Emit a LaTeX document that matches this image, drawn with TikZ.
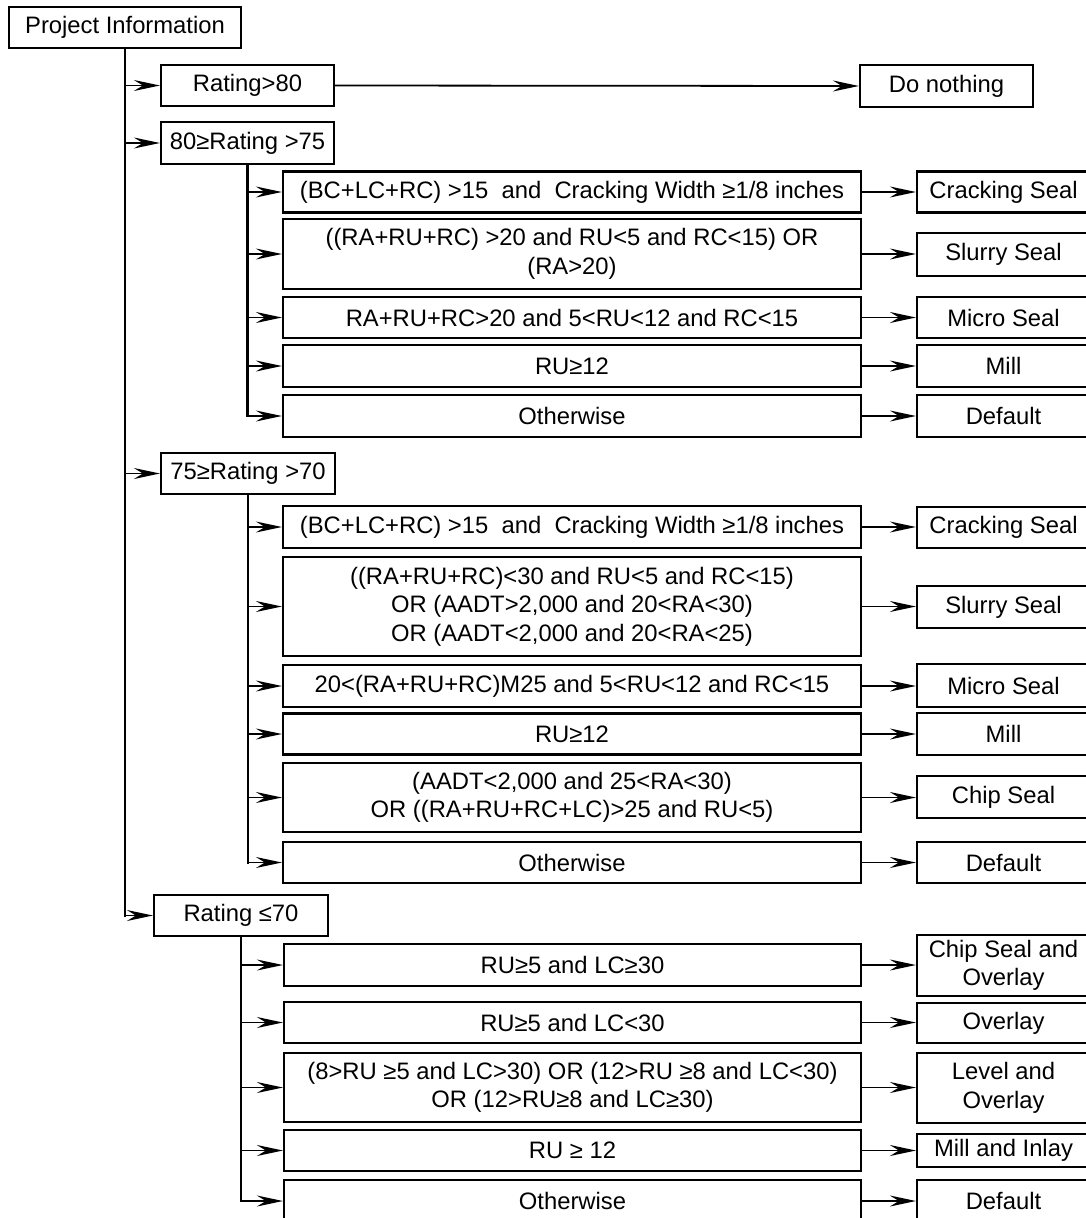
\documentclass[tikz,border=0pt]{standalone}
\usepackage{fontspec}
\setmainfont{Liberation Sans}
\usetikzlibrary{arrows.meta}
\begin{document}
\begin{tikzpicture}[x=1pt,y=-1pt,
  box/.style={draw, line width=2.2pt, inner sep=0pt, align=center,
    font=\fontsize{23.8}{28.5}\selectfont},
  wh/.style 2 args={minimum width=#1pt, minimum height=#2pt},
  vline/.style={line width=2.7pt, line cap=rect},
  arr/.style={line width=1.8pt, -{Stealth[length=26pt,width=11pt,inset=9pt]}},
]
\useasboundingbox (0,0) rectangle (1085,1218);
\fill[white] (0,0) rectangle (1085,1218);

% top level
\node[box, wh={232}{41}] (pi) at (125,27.5) {Project Information};
\node[box, wh={173}{41}] (r80) at (247.5,85.5) {Rating>80};
\node[box, wh={173}{42}] (dn) at (946.5,86) {Do nothing};
\node[box, wh={173}{42}] (g1) at (247.5,143) {80≥Rating >75};
\node[box, wh={174}{41}] (g2) at (248,473.5) {75≥Rating >70};
\node[box, wh={174}{41}] (g3) at (241,915.5) {Rating ≤70};

% group 1 conditions
\node[box, wh={578}{41}] (a1) at (572,192) {(BC+LC+RC) >15~~and~~Cracking Width ≥1/8 inches};
\node[box, wh={578}{70}] (a2) at (572,254) {((RA+RU+RC) >20 and RU<5 and RC<15) OR\\(RA>20)};
\node[box, wh={578}{41}] (a3) at (572,317.5) {RA+RU+RC>20 and 5<RU<12 and RC<15};
\node[box, wh={578}{42}] (a4) at (572,366) {RU≥12};
\node[box, wh={578}{42}] (a5) at (572,416) {Otherwise};
% group 1 results
\node[box, wh={173}{41}] (ra1) at (1003.5,192) {Cracking Seal};
\node[box, wh={173}{43}] (ra2) at (1003.5,254.5) {Slurry Seal};
\node[box, wh={173}{41}] (ra3) at (1003.5,317.5) {Micro Seal};
\node[box, wh={173}{42}] (ra4) at (1003.5,366) {Mill};
\node[box, wh={173}{42}] (ra5) at (1003.5,416) {Default};

% group 2 conditions
\node[box, wh={578}{42}] (b1) at (572,527) {(BC+LC+RC) >15~~and~~Cracking Width ≥1/8 inches};
\node[box, wh={578}{99}] (b2) at (572,606.5) {((RA+RU+RC)<30 and RU<5 and RC<15)\\OR (AADT>2,000 and 20<RA<30)\\OR (AADT<2,000 and 20<RA<25)};
\node[box, wh={578}{42}] (b3) at (572,686) {20<(RA+RU+RC)M25 and 5<RU<12 and RC<15};
\node[box, wh={578}{41}] (b4) at (572,734) {RU≥12};
\node[box, wh={578}{69}] (b5) at (572,797.5) {(AADT<2,000 and 25<RA<30)\\OR ((RA+RU+RC+LC)>25 and RU<5)};
\node[box, wh={578}{41}] (b6) at (572,862.5) {Otherwise};
% group 2 results
\node[box, wh={173}{41}] (rb1) at (1003.5,527.5) {Cracking Seal};
\node[box, wh={173}{42}] (rb2) at (1003.5,607) {Slurry Seal};
\node[box, wh={173}{43}] (rb3) at (1003.5,685.5) {Micro Seal};
\node[box, wh={173}{42}] (rb4) at (1003.5,734) {Mill};
\node[box, wh={173}{42}] (rb5) at (1003.5,797) {Chip Seal};
\node[box, wh={173}{41}] (rb6) at (1003.5,862.5) {Default};

% group 3 conditions
\node[box, wh={577}{42}] (c1) at (572.5,965) {RU≥5 and LC≥30};
\node[box, wh={577}{41}] (c2) at (572.5,1022.5) {RU≥5 and LC<30};
\node[box, wh={577}{69}] (c3) at (572.5,1087.5) {(8>RU ≥5 and LC>30) OR (12>RU ≥8 and LC<30)\\OR (12>RU≥8 and LC≥30)};
\node[box, wh={577}{41}] (c4) at (572.5,1150.5) {RU ≥ 12};
\node[box, wh={577}{42}] (c5) at (572.5,1201) {Otherwise};
% group 3 results
\node[box, wh={173}{61}] (rc1) at (1003.5,965.5) {Chip Seal and\\Overlay};
\node[box, wh={173}{40}] (rc2) at (1003.5,1023) {Overlay};
\node[box, wh={173}{70}] (rc3) at (1003.5,1088) {Level and\\Overlay};
\node[box, wh={173}{33}] (rc4) at (1003.5,1150.5) {Mill and Inlay};
\node[box, wh={173}{42}] (rc5) at (1003.5,1201) {Default};

% main trunk
\draw[vline] (pi.south) -- (pi.south |- g3.west);
\foreach \n in {r80,g1,g2,g3}
  \draw[arr] (pi.south |- \n.west) -- (\n.west);
\draw[arr] (r80.east) -- (dn.west);

% sub trunks
\draw[vline] (g1.south) -- (g1.south |- a5.west);
\foreach \n in {a1,a2,a3,a4,a5}
  \draw[arr] (g1.south |- \n.west) -- (\n.west);
\draw[vline] (g2.south) -- (g2.south |- b6.west);
\foreach \n in {b1,b2,b3,b4,b5,b6}
  \draw[arr] (g2.south |- \n.west) -- (\n.west);
\draw[vline] (g3.south) -- (g3.south |- c5.west);
\foreach \n in {c1,c2,c3,c4,c5}
  \draw[arr] (g3.south |- \n.west) -- (\n.west);

% results
\foreach \s/\t in {a1/ra1,a2/ra2,a3/ra3,a4/ra4,a5/ra5,b1/rb1,b2/rb2,b3/rb3,b4/rb4,b5/rb5,b6/rb6,c1/rc1,c2/rc2,c3/rc3,c4/rc4,c5/rc5}
  \draw[arr] (\s.east) -- (\s.east -| \t.west);
\end{tikzpicture}
\end{document}
